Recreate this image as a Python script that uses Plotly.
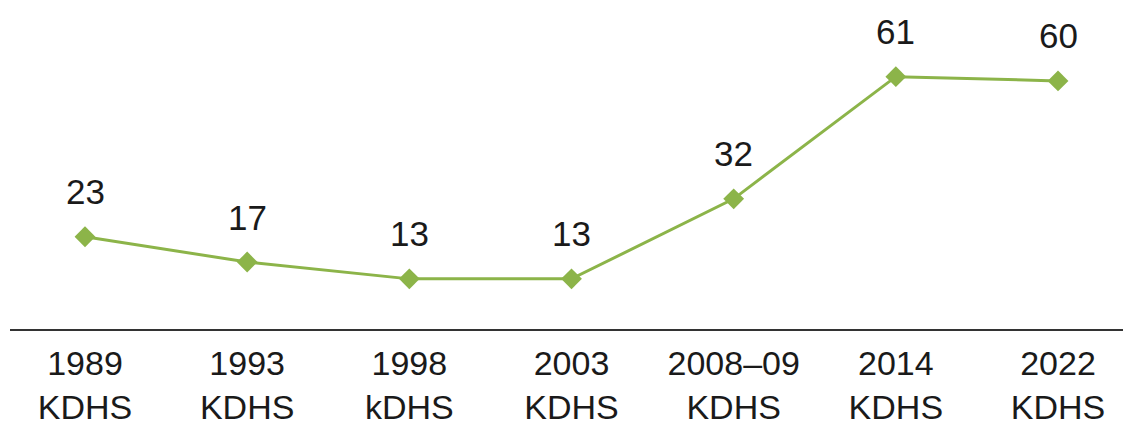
import plotly.graph_objects as go

# survey rounds and values
surveys = ["1989<br>KDHS", "1993<br>KDHS", "1998<br>kDHS", "2003<br>KDHS",
           "2008–09<br>KDHS", "2014<br>KDHS", "2022<br>KDHS"]
values = [23, 17, 13, 13, 32, 61, 60]

green = "#8cb449"
xs = list(range(len(surveys)))

fig = go.Figure()
fig.add_trace(go.Scatter(
    x=xs, y=values, mode="lines+markers",
    line=dict(color=green, width=3),
    marker=dict(symbol="diamond", size=16, color=green),
    hoverinfo="skip",
))

# data labels above each point
for x, v in zip(xs, values):
    fig.add_annotation(x=x, y=v, text=str(v), showarrow=False, yshift=45,
                       font=dict(size=35, color="#1a1a1a"))

# page body has an 8px margin, so the figure is a little smaller than the window
fig.update_layout(
    width=1123, height=420,
    margin=dict(l=2, r=0, t=0, b=99),
    paper_bgcolor="white", plot_bgcolor="white",
    showlegend=False,
    font=dict(family="Liberation Sans, Arial, sans-serif", color="#1a1a1a"),
)
fig.update_xaxes(
    range=[-0.4625, 6.45], tickmode="array", tickvals=xs, ticktext=surveys,
    showgrid=False, zeroline=False, showline=True, linecolor="#333333",
    linewidth=2, ticks="", tickfont=dict(size=34), ticklabelstandoff=3,
)
fig.update_yaxes(range=[1.1, 77.3], visible=False, showgrid=False)

fig.write_html("out.html")
